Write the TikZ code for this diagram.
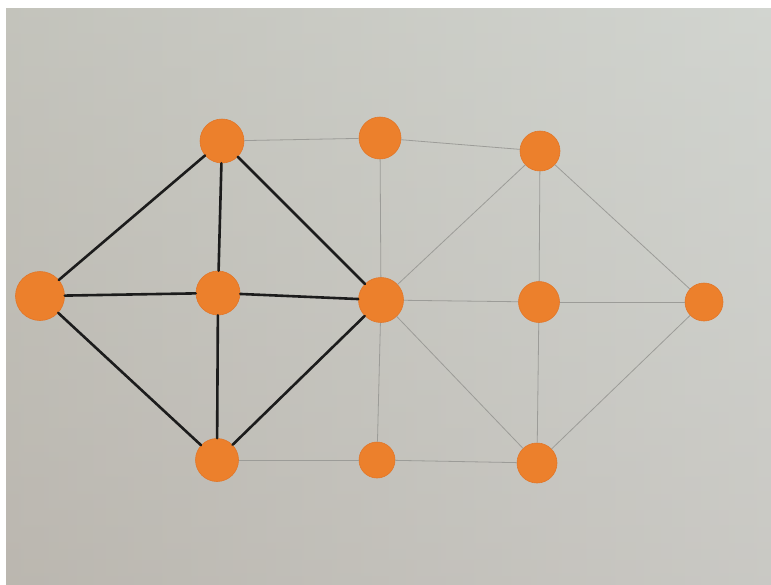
\documentclass[tikz,border=0pt]{standalone}
\definecolor{dotorange}{RGB}{236,128,44}
\definecolor{dotedge}{RGB}{226,118,40}
\definecolor{inkblack}{RGB}{28,28,28}
\definecolor{pencilgray}{RGB}{156,156,152}
\definecolor{paperL}{RGB}{188,186,177}
\definecolor{paperR}{RGB}{210,213,208}
\definecolor{paperB}{RGB}{186,178,174}
\begin{document}
\begin{tikzpicture}[x=1pt,y=-1pt,
  dot/.style={circle, fill=dotorange, draw=dotedge, line width=0.6pt, inner sep=0pt, minimum size=#1},
  dot/.default=42pt,
  ink/.style={line width=2.6pt, draw=inkblack, line cap=round},
  pencil/.style={line width=0.8pt, draw=pencilgray}]
\useasboundingbox (0,0) rectangle (771,584);
\fill[white] (0,0) rectangle (771,584);
\shade[left color=paperL, right color=paperR] (6,8) rectangle (771,584);
\shade[top color=paperR, bottom color=paperB, opacity=0.35] (6,8) rectangle (771,584);
% nodes
\node[dot=44pt] (A) at (222,141) {};
\node[dot=42pt] (B) at (380,138) {};
\node[dot=40pt] (C) at (540,151) {};
\node[dot=49pt] (D) at (40,296) {};
\node[dot=44pt] (E) at (218,293) {};
\node[dot=45pt] (F) at (381,300) {};
\node[dot=41pt] (G) at (539,302) {};
\node[dot=38pt] (H) at (704,302) {};
\node[dot=43pt] (I) at (217,460) {};
\node[dot=36pt] (J) at (377,460) {};
\node[dot=40pt] (K) at (537,463) {};
% faint pencil lines
\draw[pencil] (A) -- (B);
\draw[pencil] (B) -- (C);
\draw[pencil] (B) -- (F);
\draw[pencil] (F) -- (J);
\draw[pencil] (F) -- (C);
\draw[pencil] (F) -- (G);
\draw[pencil] (F) -- (K);
\draw[pencil] (C) -- (G);
\draw[pencil] (G) -- (K);
\draw[pencil] (C) -- (H);
\draw[pencil] (G) -- (H);
\draw[pencil] (K) -- (H);
\draw[pencil] (I) -- (J);
\draw[pencil] (J) -- (K);
% dark ink lines
\draw[ink] (D) -- (A);
\draw[ink] (D) -- (E);
\draw[ink] (D) -- (I);
\draw[ink] (A) -- (E);
\draw[ink] (A) -- (F);
\draw[ink] (E) -- (F);
\draw[ink] (E) -- (I);
\draw[ink] (I) -- (F);
\end{tikzpicture}
\end{document}
